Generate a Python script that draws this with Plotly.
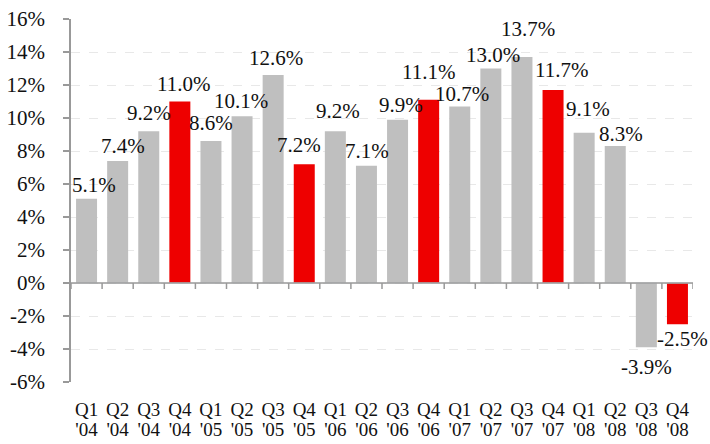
import plotly.graph_objects as go

quarters = ["Q1", "Q2", "Q3", "Q4"] * 5
years = ["'04"] * 4 + ["'05"] * 4 + ["'06"] * 4 + ["'07"] * 4 + ["'08"] * 4
values = [5.1, 7.4, 9.2, 11.0, 8.6, 10.1, 12.6, 7.2, 9.2, 7.1,
          9.9, 11.1, 10.7, 13.0, 13.7, 11.7, 9.1, 8.3, -3.9, -2.5]
y_ticks = [-6, -4, -2, 0, 2, 4, 6, 8, 10, 12, 14, 16]

# label placement tweaks (pixels), as the labels sit in the original
label_dx = [7, 5, 0, 4, 0, -1, 3, -5, 3, 1, 3, 0, 2, 2, 6, 8, 4, 6, 0, 5]
label_gap = [5, 6, 9, 9, 9, 6, 8, 10, 11, 6, 6, 19, 3, 5, 19, 11, 15, 3, 11, 6]

colors = ["#ee0000" if q == "Q4" else "#bfbfbf" for q in quarters]
labels = [f"{v:.1f}%" for v in values]
xs = list(range(len(values)))

FONT = "Liberation Serif, Times New Roman, serif"
TXT = "#111111"
AX = "#999999"

fig = go.Figure(go.Bar(
    x=xs, y=values,
    marker=dict(color=colors, line=dict(width=0)),
    hoverinfo="skip",
))
# second (invisible) trace to carry the year tick labels on xaxis2
fig.add_trace(go.Bar(x=xs, y=[0] * len(xs), xaxis="x2", showlegend=False,
                     hoverinfo="skip", marker=dict(color="rgba(0,0,0,0)")))

annotations = []
for i, (v, t, dx, g) in enumerate(zip(values, labels, label_dx, label_gap)):
    if v >= 0:
        annotations.append(dict(x=i, y=v, xref="x", yref="y", text=t,
                                showarrow=False, yanchor="bottom",
                                xshift=dx, yshift=g - 5,
                                font=dict(family=FONT, size=21, color=TXT)))
    else:
        annotations.append(dict(x=i, y=v, xref="x", yref="y", text=t,
                                showarrow=False, yanchor="top",
                                xshift=dx, yshift=-(g - 5),
                                font=dict(family=FONT, size=21, color=TXT)))

shapes = [dict(type="line", xref="paper", yref="y", x0=0, x1=1, y0=0, y1=0,
               line=dict(color=AX, width=1.5))]
for i in range(len(values) + 1):
    shapes.append(dict(type="line", xref="x", yref="y", ysizemode="pixel",
                       yanchor=0, x0=i - 0.5, x1=i - 0.5, y0=0, y1=-6,
                       line=dict(color=AX, width=1.5)))

xrange = [-0.5, len(values) - 0.5]
fig.update_layout(
    width=710, height=444,
    margin=dict(l=71, r=17, t=19, b=62),
    paper_bgcolor="white", plot_bgcolor="white",
    bargap=0.325, barmode="overlay", showlegend=False,
    font=dict(family=FONT, size=21, color=TXT),
    shapes=shapes, annotations=annotations,
    xaxis=dict(tickmode="array", tickvals=xs, ticktext=quarters,
               range=xrange, automargin=False,
               showline=False, showgrid=False, zeroline=False, ticks="",
               ticklabelstandoff=14, tickfont=dict(family=FONT, size=19, color=TXT)),
    xaxis2=dict(tickmode="array", tickvals=xs, ticktext=years,
                range=xrange, overlaying="x", anchor="y", side="bottom",
                automargin=False,
                showline=False, showgrid=False, zeroline=False, ticks="",
                ticklabelstandoff=34, tickfont=dict(family=FONT, size=19, color=TXT)),
    yaxis=dict(range=[-6, 16], tickvals=y_ticks,
               ticktext=[f"{t}%" for t in y_ticks], automargin=False,
               showline=True, linecolor=AX, linewidth=1.5,
               ticks="outside", ticklen=6, tickcolor=AX, tickwidth=1.5,
               showgrid=True, gridcolor="#e8e8e8", griddash="dash", gridwidth=1,
               zeroline=False, ticklabelstandoff=14,
               tickfont=dict(family=FONT, size=21, color=TXT)),
)

fig.write_html("out.html", config={"displayModeBar": False},
               post_script="document.body.style.margin='0';document.body.style.overflow='hidden';")
